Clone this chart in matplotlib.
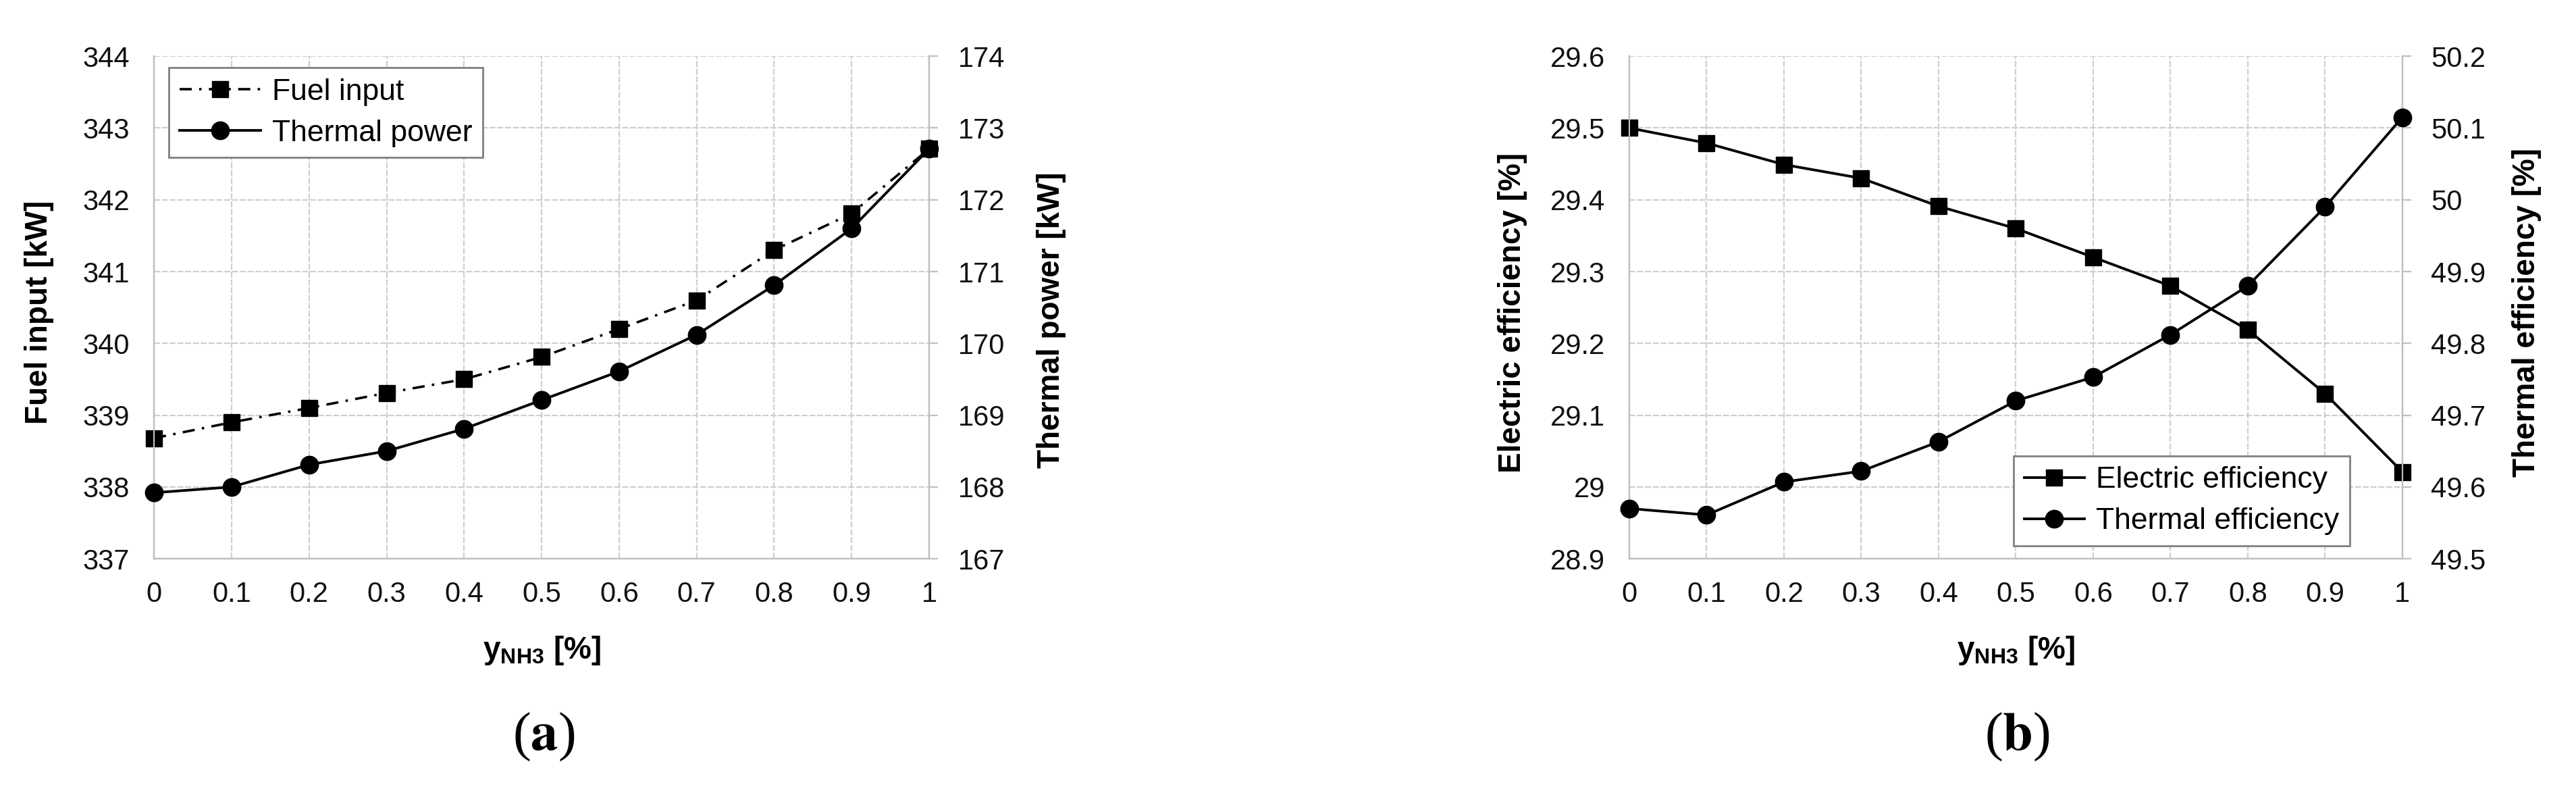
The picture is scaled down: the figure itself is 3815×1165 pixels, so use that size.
import matplotlib.pyplot as plt
from matplotlib.ticker import FuncFormatter, MultipleLocator

plt.rcParams['font.family'] = ['Liberation Sans', 'DejaVu Sans']
plt.rcParams['mathtext.fontset'] = 'custom'
plt.rcParams['mathtext.rm'] = 'Liberation Sans'
plt.rcParams['mathtext.bf'] = 'Liberation Sans:bold'
plt.rcParams['mathtext.it'] = 'Liberation Sans:italic'

# datos
y_nh3 = [0, 0.1, 0.2, 0.3, 0.4, 0.5, 0.6, 0.7, 0.8, 0.9, 1.0]
fuel_input = [338.68, 338.9, 339.1, 339.31, 339.5, 339.81, 340.2, 340.6, 341.3, 341.81, 342.71]
thermal_power = [167.92, 168.0, 168.31, 168.5, 168.81, 169.21, 169.61, 170.12, 170.81, 171.6, 172.71]
electric_eff = [29.5, 29.479, 29.449, 29.43, 29.391, 29.36, 29.32, 29.28, 29.219, 29.13, 29.021]
thermal_eff = [49.57, 49.561, 49.607, 49.622, 49.663, 49.72, 49.753, 49.812, 49.88, 49.99, 50.115]

GRID = '#cfcfcf'
SPINE = '#bfbfbf'
fmt = FuncFormatter(lambda v, p: f'{v:g}')


def preparar(ax, ax2, ylim1, ylim2, step):
    ax.set_xlim(0, 1)
    ax.set_ylim(*ylim1)
    ax2.set_ylim(*ylim2)
    ax.xaxis.set_major_locator(MultipleLocator(0.1))
    ax.yaxis.set_major_locator(MultipleLocator(step))
    ax2.yaxis.set_major_locator(MultipleLocator(step))
    for a in (ax, ax2):
        a.xaxis.set_major_formatter(fmt)
        a.yaxis.set_major_formatter(fmt)
        a.spines['top'].set_visible(False)
        for s in ('left', 'bottom', 'right'):
            a.spines[s].set_color(SPINE)
            a.spines[s].set_linewidth(1.6)
    ax.grid(True, color=GRID, linewidth=1.6, linestyle=(0, (4, 1.2)))
    ax.set_axisbelow(True)
    ax.tick_params(axis='x', length=0, pad=24, labelsize=30, labelcolor='#111111')
    ax.tick_params(axis='y', length=0, pad=26, labelsize=30, labelcolor='#111111')
    ax2.tick_params(axis='y', length=9.5, width=1.6, color=SPINE, pad=21,
                    labelsize=30, labelcolor='#111111')
    ax.set_xlabel(r'$\mathbf{y_{NH3}}$ [%]', fontsize=33, fontweight='bold')
    ax.xaxis.set_label_coords(0.5, -0.15)
    ax.xaxis.label.set_va('top')


fig = plt.figure(figsize=(38.15, 11.65), dpi=100)

# (a)
ax1 = fig.add_axes([0.0598, 0.290, 0.3009, 0.6386])
ax1b = ax1.twinx()
preparar(ax1, ax1b, (337, 344), (167, 174), 1)
l1, = ax1b.plot([], [])
ax1.plot(y_nh3, fuel_input, color='black', linewidth=2.6, linestyle=(0, (5, 3, 1, 3)),
         marker='s', markersize=17, clip_on=False, zorder=5, label='Fuel input')
ax1b.plot(y_nh3, thermal_power, color='black', linewidth=2.8, marker='o',
          markersize=19, clip_on=False, zorder=5, label='Thermal power')
ax1.set_ylabel('Fuel input [kW]', fontsize=33, fontweight='bold')
ax1.yaxis.set_label_coords(-0.148, 0.49)
ax1.yaxis.label.set_va('center')
ax1b.set_ylabel('Thermal power [kW]', fontsize=33, fontweight='bold')
ax1b.yaxis.set_label_coords(1.158, 0.475)
ax1b.yaxis.label.set_va('center')
h1, lab1 = ax1.get_legend_handles_labels()
h2, lab2 = ax1b.get_legend_handles_labels()
leg = ax1b.legend(h1 + h2, lab1 + lab2, loc='upper left', bbox_to_anchor=(0.019, 0.977),
                  borderaxespad=0, fontsize=32, fancybox=False, framealpha=1,
                  edgecolor='#808080', handlelength=2.7, labelspacing=0.45, borderpad=0.35,
                  handletextpad=0.4)
leg.get_frame().set_linewidth(2)

# (b)
ax2 = fig.add_axes([0.6325, 0.290, 0.3001, 0.6386])
ax2b = ax2.twinx()
preparar(ax2, ax2b, (28.9, 29.6), (49.5, 50.2), 0.1)
ax2.plot(y_nh3, electric_eff, color='black', linewidth=2.8, marker='s',
         markersize=17, clip_on=False, zorder=5, label='Electric efficiency')
ax2b.plot(y_nh3, thermal_eff, color='black', linewidth=2.8, marker='o',
          markersize=19, clip_on=False, zorder=5, label='Thermal efficiency')
ax2.set_ylabel('Electric efficiency [%]', fontsize=33, fontweight='bold')
ax2.yaxis.set_label_coords(-0.151, 0.49)
ax2.yaxis.label.set_va('center')
ax2b.set_ylabel('Thermal efficiency [%]', fontsize=33, fontweight='bold')
ax2b.yaxis.set_label_coords(1.161, 0.49)
ax2b.yaxis.label.set_va('center')
h1, lab1 = ax2.get_legend_handles_labels()
h2, lab2 = ax2b.get_legend_handles_labels()
leg = ax2b.legend(h1 + h2, lab1 + lab2, loc='lower right', bbox_to_anchor=(0.932, 0.026),
                  borderaxespad=0, fontsize=32, fancybox=False, framealpha=1,
                  edgecolor='#808080', handlelength=2.0, labelspacing=0.45, borderpad=0.35,
                  handletextpad=0.4)
leg.get_frame().set_linewidth(2)

fig.text(0.211, 0.064, r'($\mathbf{a}$)', fontsize=58, family='Liberation Serif',
         math_fontfamily='stix', ha='center', va='center')
fig.text(0.783, 0.064, r'($\mathbf{b}$)', fontsize=58, family='Liberation Serif',
         math_fontfamily='stix', ha='center', va='center')

fig.savefig('out.png', dpi=100)
